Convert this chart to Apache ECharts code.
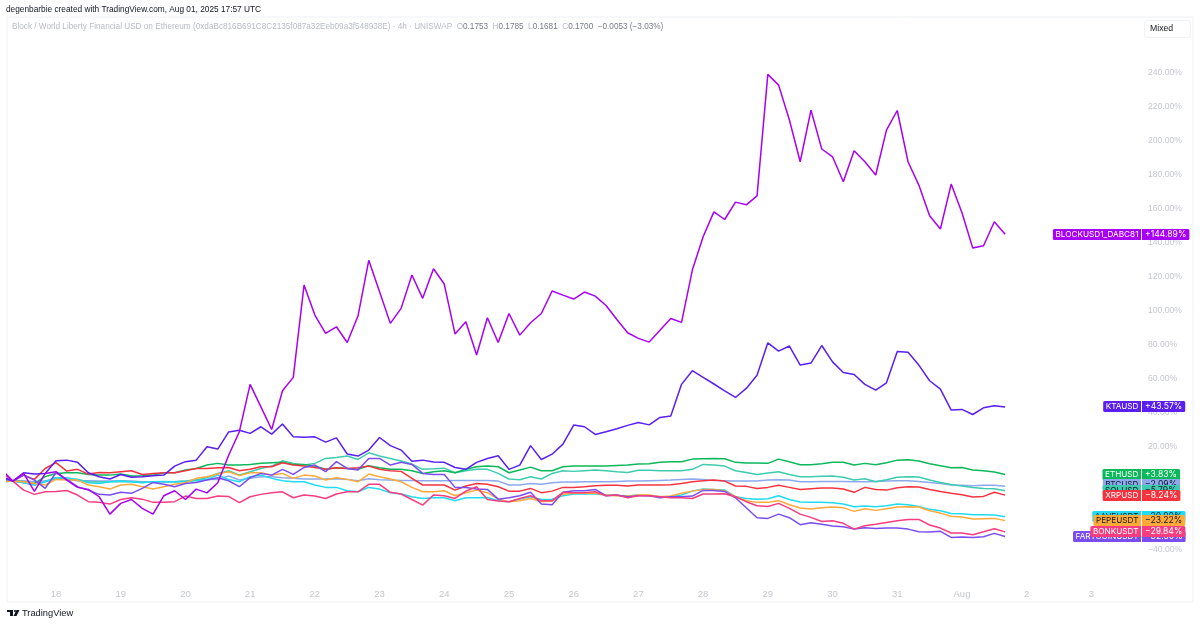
<!DOCTYPE html>
<html>
<head>
<meta charset="utf-8">
<title>BLOCK vs majors</title>
<script src="https://cdn.jsdelivr.net/npm/echarts@6/dist/echarts.min.js"></script>
<style>
  html, body { margin: 0; padding: 0; background: #fff; }
  #main { width: 1200px; height: 625px; }
</style>
</head>
<body>
<div id="main"></div>
<script>
// percent change per 4h bar
var blockValues = [6.5,0,4.5,-6,4.5,5.5,0.6,-3.7,-4.9,-9.2,-19.4,-13.1,-10.8,-16,-19.4,-8.6,-5.7,-10.8,-4.7,-6.9,-1,15,29,56.8,43.6,30.3,53,60.9,115.1,97.5,86.7,90.6,81.4,96.9,129.6,111.2,92.6,101.4,121,107.3,124.7,115.7,86.3,93.5,74,95.9,81.4,98.4,85.7,93,98.4,111.6,109.2,106.9,111,108.6,103.1,94.9,87.1,83.8,81.6,88.5,95.5,93.2,123.9,143.5,158.1,153.6,163.8,162.2,167.5,238.8,232.5,212,187.5,217.8,195,190.4,175.8,194,187.5,179.7,206.1,217.6,187.5,173.8,155.8,148,174.4,157.6,136.8,138.2,152.3,144.89];
var ktaValues = [2.5,0,4.9,4.1,4.5,11.9,12.3,11,4.9,2.5,1.2,3.9,2.2,2.5,3.1,3.5,8.8,11.4,12.3,20.2,18.8,28.8,29.9,28,31.9,27.6,33.5,26,25.8,26,22.9,25.4,15.9,14.7,18.2,25.6,20.8,18.2,11.7,12.3,11.2,11,8,6.9,11,13.3,14.9,6.9,9.4,20.8,12.7,15.8,21.7,32.9,31.9,27.4,29,30.7,32.7,34.4,33,37.4,38.2,56.8,64.8,60.9,57,53,49.1,54.4,62.2,81.2,76.3,79.3,68.1,69.3,79.6,70,63.8,62.6,56.8,53.4,57.7,76.1,75.6,68.1,58.9,54,41.7,42.1,39.1,43,44.2,43.57];
var ethValues = [1,0,-0.4,-1.4,2.6,4.5,4.9,4.9,3.9,3.5,3.5,4.1,3,3.2,3.5,4.9,4.9,6.5,7.4,9.4,10.4,9.4,9.4,9.8,10.4,10.8,11,9.8,9.8,8.8,6.9,7.8,7.4,7,9,7.8,7,6.9,6.1,4.5,5.5,6.1,4.9,6.9,8.4,8.8,8.4,4.9,6.5,8.2,6.1,6.1,8.4,8.8,8.8,8.8,8.8,9.2,9.4,10,10.2,11,11.4,11.4,12.9,13.1,13.3,13.1,11,10.6,10.6,10.4,12.9,11.4,9.6,9.6,10.2,11,11,9.4,10.4,9.6,10.8,12.3,12.5,11.8,10.2,9,7.8,8,6.5,6.1,5.3,3.83];
var btcValues = [0.6,0,0.2,-0.4,0.2,1.2,1,0.2,0.2,0,0,0.2,0,-0.4,-0.4,-0.4,-0.4,0,0.6,1,1,3,0.6,1.6,2.6,2.6,2,1.6,1.2,1.2,1.2,1.4,1,0.2,1.4,0.8,0.6,0.4,0.4,0.2,0.2,0.2,0.4,0.4,0.4,0.4,0,-2.3,-2.3,-1.4,-1.8,-1,-0.6,-0.6,-0.4,-0.4,-0.4,-0.2,0,0,0.2,0.4,0.6,1,1.2,1,0.4,0.2,0,0,0,0.6,0.8,0.6,-0.4,-0.4,-0.2,-0.2,-0.2,-0.4,-0.4,-0.2,0,0.2,0.2,-0.2,-0.8,-1.4,-2.3,-2.5,-2.7,-2.5,-2.5,-3.1];
var solValues = [-0.3,0,-1,-2.3,-0.4,2,1,1,-0.4,-0.6,-0.4,-0.2,-0.4,-0.8,-0.4,-0.2,-0.4,0,0.6,2,4.5,6.1,3.5,5.5,7.4,8.8,11.9,10.4,9.4,10.4,13.3,13.9,14.7,12.7,16.6,14.7,13.3,11.8,10,6.9,7.2,7.6,4.9,6.1,6.9,6.9,4.5,1.2,0.8,2.6,1.2,4.5,6.1,5.7,6.1,6.5,6.1,5.5,5.1,6.3,6.3,6.1,6.1,6.1,6.9,9.8,9.4,8.8,6.1,5.1,3.9,4.7,5.5,3.9,2.6,2.6,2.8,3,2.2,0.6,1.4,-0.4,0.8,2.2,2.6,2.4,0.6,-0.8,-2,-2.9,-3.7,-4.3,-4.5,-5.7];
var xrpValues = [1.4,0,3.5,1,7.4,10.8,5.9,6.9,4.1,5.1,4.9,5.5,6.1,3.9,4.5,4.9,4.9,6.1,7.4,7.4,7.8,8,6.1,6.9,8.4,8.4,10.8,9.4,8.8,8,6.9,7.8,7.4,7.8,8.8,6.9,6.1,5.7,1.6,-2.3,-2.3,-2.3,-5.3,-2.9,-1.4,-1.8,-3.3,-5.9,-5.9,-4.3,-6.8,-5.9,-3.7,-3.7,-3.3,-2.7,-2.5,-2.5,-2.9,-2.3,-2.3,-2.3,-2.1,-1.4,-0.4,0.2,0.6,0,-2.9,-3.1,-4.3,-3.7,-2.5,-3.7,-4.9,-4.5,-4.1,-4.1,-4.7,-6.6,-3.7,-4.9,-5.3,-3.9,-3.3,-3.5,-4.9,-6.1,-7.2,-8,-9.4,-9,-6.6,-8.24];
var aaveValues = [-0.3,0,-1,-2.3,-0.4,2,2,1,-1,-1.4,-0.4,0,-0.4,-1,-0.4,-0.4,-0.4,-0.4,0.2,1,3.5,1,-0.4,2.6,3.5,1.6,0.2,-0.4,-0.4,-2.3,-3.7,-3.7,-5.7,-6.3,-3.7,-4.7,-6.8,-7.6,-9.2,-10.2,-9.8,-9.8,-11.5,-9.8,-9.8,-9.6,-11.5,-12.1,-10.6,-9.2,-10.8,-10.6,-8.6,-7.6,-7.6,-7.6,-8.2,-8.4,-8.8,-8.2,-8.6,-9.2,-9.2,-8.2,-5.9,-4.7,-4.9,-5.3,-9.2,-10.2,-10.6,-10.4,-8.6,-10.8,-12.3,-12.5,-12.5,-12.7,-13.5,-15.1,-14.7,-15.1,-14.5,-13.5,-13.9,-14.9,-16.6,-17.4,-19,-19.2,-19.8,-19.8,-19.9,-20.9];
var pepeValues = [-0.3,0,-0.4,-1.4,-2.3,1,0.6,0.6,-2.3,-3.3,-4.7,-2.3,-1.8,-3.3,-4.7,-3.3,-1.8,-1,1.6,2.6,4.1,5.5,3.2,4.9,4.9,3.5,4.5,1.6,3.5,3,0.6,2,1,-0.4,4.1,2.6,1.2,-0.4,-3.7,-6.3,-6.3,-5.7,-8.6,-6.8,-5.3,-6.8,-10.6,-12.1,-11.5,-10.2,-12.1,-11.7,-7.8,-7.2,-7.2,-7.2,-8.2,-8.6,-8.8,-8.2,-8.2,-9.2,-8.8,-7.2,-5.9,-4.9,-4.9,-5.7,-9.2,-11.5,-12.5,-12.5,-11.5,-13.9,-15.8,-16.4,-15.6,-15.2,-15.6,-17.8,-16.2,-17.2,-16.2,-15.2,-15.1,-15.2,-17.4,-18.8,-20.7,-21.1,-22.3,-22.1,-21.9,-23.22];
var bonkValues = [4.9,0,-5.3,-7.8,-6.3,-6.1,-5.5,-8.2,-12.1,-12.5,-13.5,-10.8,-9.8,-10.6,-12.5,-12.5,-12.1,-8.8,-10.2,-10.2,-8.8,-9,-12.7,-9.2,-7.8,-6.8,-6.3,-9.8,-8.2,-8.8,-10.2,-7.6,-6.3,-6.3,-1.9,-1.9,-6.6,-7.6,-10.8,-14.1,-8.2,-8.6,-10.2,-5.9,-3.3,-10.8,-11.7,-12.1,-10.2,-8.6,-11.5,-11.5,-6.6,-6.8,-6.8,-6.3,-8.6,-8.2,-9.8,-8.6,-8.6,-9.2,-9.8,-9.8,-10.2,-7.6,-7.6,-7.4,-9.2,-12.1,-14.5,-14.9,-13.1,-16,-19.4,-21.3,-23.7,-23.3,-24.8,-28.2,-26.2,-25.4,-24.3,-23.3,-22.5,-22.5,-25.8,-27.6,-30.5,-30.5,-31.5,-29.7,-28,-29.84];
var fartValues = [2,0,3.5,0.6,-4.3,4.9,1,-3.3,-5.3,-7.8,-8.2,-6.6,-7.2,-4.3,-0.8,-1.9,-3.3,-1.4,-0.8,0.6,2,0.2,-3.3,2,4.5,3.5,6.9,3.9,8,9.4,5.5,11.4,7.4,6.5,13.3,13.3,9.4,11,9.8,4.5,3.9,3.9,-3.7,-3.7,-4.7,-4.9,-10.6,-9.8,-8.6,-6.6,-13.5,-13.9,-6.6,-5.7,-5.7,-4.9,-8.6,-8.2,-9.2,-8.6,-8.6,-9.8,-9.2,-9.2,-8.8,-5.5,-5.5,-6.1,-9.8,-15.7,-21.5,-21.9,-19.4,-21.5,-25.6,-24.5,-25.4,-26.4,-26.8,-28.2,-27.4,-27.8,-27.6,-27.6,-28.2,-29.7,-29.9,-29.5,-33.1,-32.9,-33.1,-32.7,-30.7,-32.5];

// axis ticks
var dayTicks = [18,19,20,21,22,23,24,25,26,27,28,29,30,31,32,33,34];
var dayLabels = ['18','19','20','21','22','23','24','25','26','27','28','29','30','31','Aug','2','3'];
var percentTicks = [-40,-20,0,20,40,60,80,100,120,140,160,180,200,220,240];

// tags on the right, in draw order
var tagNames = ['BLOCKUSD1_DABC81','KTAUSD','ETHUSD','BTCUSD','SOLUSD','XRPUSD','AAVEUSDT','PEPEUSDT','FARTCOINUSDT','BONKUSDT'];
var tagValues = [144.89,43.57,3.83,-2.09,-5.79,-8.24,-20.90,-23.22,-32.50,-29.84];
var tagColors = ['#a800f5','#5a1ff0','#0bb85a','#8ba9ec','#3ecbb0','#f5333f','#1fdcf2','#ffa93a','#7a4df0','#f53d80'];
var tagTextColors = ['#fff','#fff','#fff','#131722','#131722','#fff','#131722','#131722','#fff','#fff'];

var lineNames = ['BTCUSD','SOLUSD','ETHUSD','XRPUSD','AAVEUSDT','PEPEUSDT','FARTCOINUSDT','BONKUSDT','KTAUSD','BLOCKUSD1_DABC81'];
var lineValues = [btcValues,solValues,ethValues,xrpValues,aaveValues,pepeValues,fartValues,bonkValues,ktaValues,blockValues];

var NARROW = '"Liberation Sans", Arial, sans-serif';
var chart = echarts.init(document.getElementById('main'));

var measure = document.createElement('canvas').getContext('2d');

function textWidth(text, font) {
  measure.font = font;
  return measure.measureText(text).width;
}

function pairs(values) {
  return values.map(function (v, k) {
    return [18 + (k - 5) / 6, v];
  });
}

function pct(v) {
  var s = Math.abs(v).toFixed(2) + '%';
  return v < 0 ? '\u2212' + s : s;
}

function signed(v) {
  return v < 0 ? pct(v) : '+' + pct(v);
}

function renderTag(params, api) {
  var i = params.dataIndex;
  var p = api.coord([api.value(0), api.value(1)]);
  var divider = 1141;
  var h = 11;
  var top = Math.round(p[1] - h / 2);
  var name = tagNames[i];
  var text = signed(tagValues[i]);
  var nameFont = '8.2px Inter';
  var valueFont = '8.6px Inter';
  var leftW = textWidth(name, nameFont) + 5;
  var rightW = textWidth(text, valueFont) + 6;
  return {
    type: 'group',
    children: [
      { type: 'rect', shape: { x: divider - leftW, y: top, width: leftW, height: h, r: [1.5, 0, 0, 1.5] }, style: { fill: tagColors[i] } },
      { type: 'rect', shape: { x: divider + 1, y: top, width: rightW, height: h, r: [0, 1.5, 1.5, 0] }, style: { fill: tagColors[i] } },
      { type: 'text', style: { x: divider - 2.5, y: top + h / 2, text: name, textAlign: 'right', textVerticalAlign: 'middle', fill: tagTextColors[i], font: nameFont } },
      { type: 'text', style: { x: divider + 1 + rightW - 3, y: top + h / 2, text: text, textAlign: 'right', textVerticalAlign: 'middle', fill: tagTextColors[i], font: valueFont } }
    ]
  };
}

var series = lineNames.map(function (name, i) {
  return {
    name: name,
    type: 'line',
    data: pairs(lineValues[i]),
    symbol: 'none',
    z: 2 + i,
    lineStyle: { width: 1.5, color: tagColors[tagNames.indexOf(name)] },
    silent: true
  };
});

series.push({
  type: 'custom',
  renderItem: renderTag,
  clip: false,
  z: 30,
  silent: true,
  data: tagValues.map(function (v) { return [35.57, v]; })
});

var option = {
  animation: false,
  backgroundColor: '#fff',
  grid: { left: 7, right: 7, top: 17, bottom: 23, show: true, borderColor: '#eef0f3', borderWidth: 1 },
  xAxis: {
    type: 'value',
    min: 17.243,
    max: 35.57,
    axisLine: { show: false },
    axisTick: { show: false },
    splitLine: { show: false },
    axisLabel: {
      customValues: dayTicks,
      inside: true,
      margin: 3,
      color: '#c4c7cd',
      fontFamily: NARROW,
      fontSize: 9.5,
      verticalAlign: 'bottom',
      formatter: function (v) { return dayLabels[dayTicks.indexOf(v)]; }
    }
  },
  yAxis: {
    type: 'value',
    position: 'right',
    min: -71,
    max: 272.5,
    axisLine: { show: false },
    axisTick: { show: false },
    splitLine: { show: false },
    axisLabel: {
      customValues: percentTicks,
      inside: true,
      margin: 45,
      align: 'left',
      color: '#c4c7cd',
      fontFamily: NARROW,
      fontSize: 8.6,
      formatter: function (v) { return pct(v); }
    }
  },
  series: series,
  graphic: [
    { type: 'text', left: 6, top: 6, style: { text: 'degenbarbie created with TradingView.com, Aug 01, 2025 17:57 UTC', fill: '#131722', font: '8.3px ' + NARROW } },
    {
      type: 'text', left: 12, top: 23,
      style: {
        text: '{g|Block / World Liberty Financial USD on Ethereum (0xdaBc816B691C8C2135f087a32Eeb09a3f548938E) \u00b7 4h \u00b7 UNISWAP  O}{d|0.1753}{g|  H}{d|0.1785}{g|  L}{d|0.1681}{g|  C}{d|0.1700}{d|  \u22120.0053 (\u22123.03%)}',
        rich: {
          g: { fill: '#b8bbc2', font: '8.2px ' + NARROW },
          d: { fill: '#787b86', font: '8.2px ' + NARROW }
        }
      }
    },
    { type: 'rect', shape: { x: 1144.5, y: 20.5, width: 46, height: 17, r: 3 }, style: { fill: '#fff', stroke: '#f0f1f4', lineWidth: 1 }, z: 40 },
    { type: 'text', left: 1150, top: 24, z: 41, style: { text: 'Mixed', fill: '#131722', font: '8.7px ' + NARROW } },
    // TradingView mark
    { type: 'rect', shape: { x: 7, y: 610, width: 6, height: 2 }, style: { fill: '#131722' } },
    { type: 'rect', shape: { x: 10, y: 610, width: 3, height: 6 }, style: { fill: '#131722' } },
    { type: 'circle', shape: { cx: 15, cy: 611, r: 1.1 }, style: { fill: '#131722' } },
    { type: 'polygon', shape: { points: [[16.5, 610], [19.5, 610], [16.5, 616], [13.5, 616]] }, style: { fill: '#131722' } },
    { type: 'text', left: 22, top: 609, style: { text: 'TradingView', fill: '#131722', font: '9.3px ' + NARROW } }
  ]
};

chart.setOption(option);
</script>
</body>
</html>
